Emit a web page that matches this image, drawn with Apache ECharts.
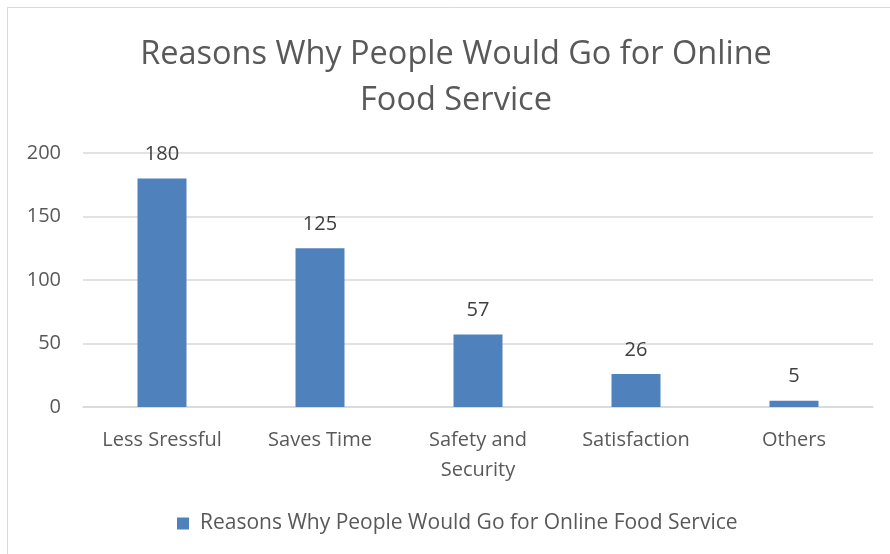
<!DOCTYPE html>
<html>
	<head>
		<meta charset="UTF-8">
		<title></title>
		<script src="https://cdn.jsdelivr.net/npm/echarts@6/dist/echarts.min.js"></script>
	</head>
	<body style="height: 100%; margin: 0">
		<div id="container" style="width: 890px; height: 554px"></div>
		<script type="text/javascript">
			var categories = ['Less Sressful', 'Saves Time', 'Safety and\nSecurity', 'Satisfaction', 'Others'];
			var seriesName = 'Reasons Why People Would Go for Online Food Service';
			var values = [180, 125, 57, 26, 5];
			var yTicks = [0, 50, 100, 150, 200];

			var font = 'Open Sans';
			var textColor = '#595959';

			var myChart = echarts.init(document.getElementById('container'));
			var option = {
			    backgroundColor: '#fff',
			    animation: false,
			    graphic: [{
			        type: 'rect',
			        shape: {x: 7.5, y: 7.5, width: 900, height: 560},
			        style: {fill: null, stroke: '#d9d9d9', lineWidth: 1}
			    }],
			    title: {
			        text: 'Reasons Why People Would Go for Online\nFood Service',
			        left: 451,
			        textAlign: 'center',
			        top: 27,
			        textStyle: {
			            fontFamily: font,
			            fontSize: 32.5,
			            fontWeight: 'normal',
			            color: textColor,
			            lineHeight: 46
			        }
			    },
			    legend: {
			        data: [seriesName],
			        top: 508,
			        left: 172,
			        itemWidth: 12,
			        itemHeight: 12,
			        icon: 'rect',
			        textStyle: {fontFamily: font, fontSize: 21, color: textColor, padding: [0, 0, 0, 6]}
			    },
			    grid: {
			        left: 83,
			        right: 17,
			        top: 153,
			        bottom: 147
			    },
			    xAxis: {
			        type: 'category',
			        data: categories,
			        axisTick: {show: false},
			        axisLine: {lineStyle: {color: '#d9d9d9', width: 1.5}},
			        axisLabel: {
			            fontFamily: font,
			            fontSize: 20,
			            color: textColor,
			            margin: 18,
			            lineHeight: 30,
			            interval: 0
			        }
			    },
			    yAxis: {
			        type: 'value',
			        min: yTicks[0],
			        max: yTicks[yTicks.length - 1],
			        interval: 50,
			        axisLabel: {
			            fontFamily: font,
			            fontSize: 20,
			            color: textColor,
			            margin: 22
			        },
			        splitLine: {lineStyle: {color: '#d9d9d9', width: 1.5}}
			    },
			    series: [{
			        name: seriesName,
			        type: 'bar',
			        data: values,
			        barWidth: 49,
			        itemStyle: {color: '#4f81bd'},
			        label: {
			            show: true,
			            position: 'top',
			            distance: 14,
			            fontFamily: font,
			            fontSize: 20,
			            color: '#404040'
			        }
			    }]
			};
			myChart.setOption(option);
		</script>
	</body>
</html>
